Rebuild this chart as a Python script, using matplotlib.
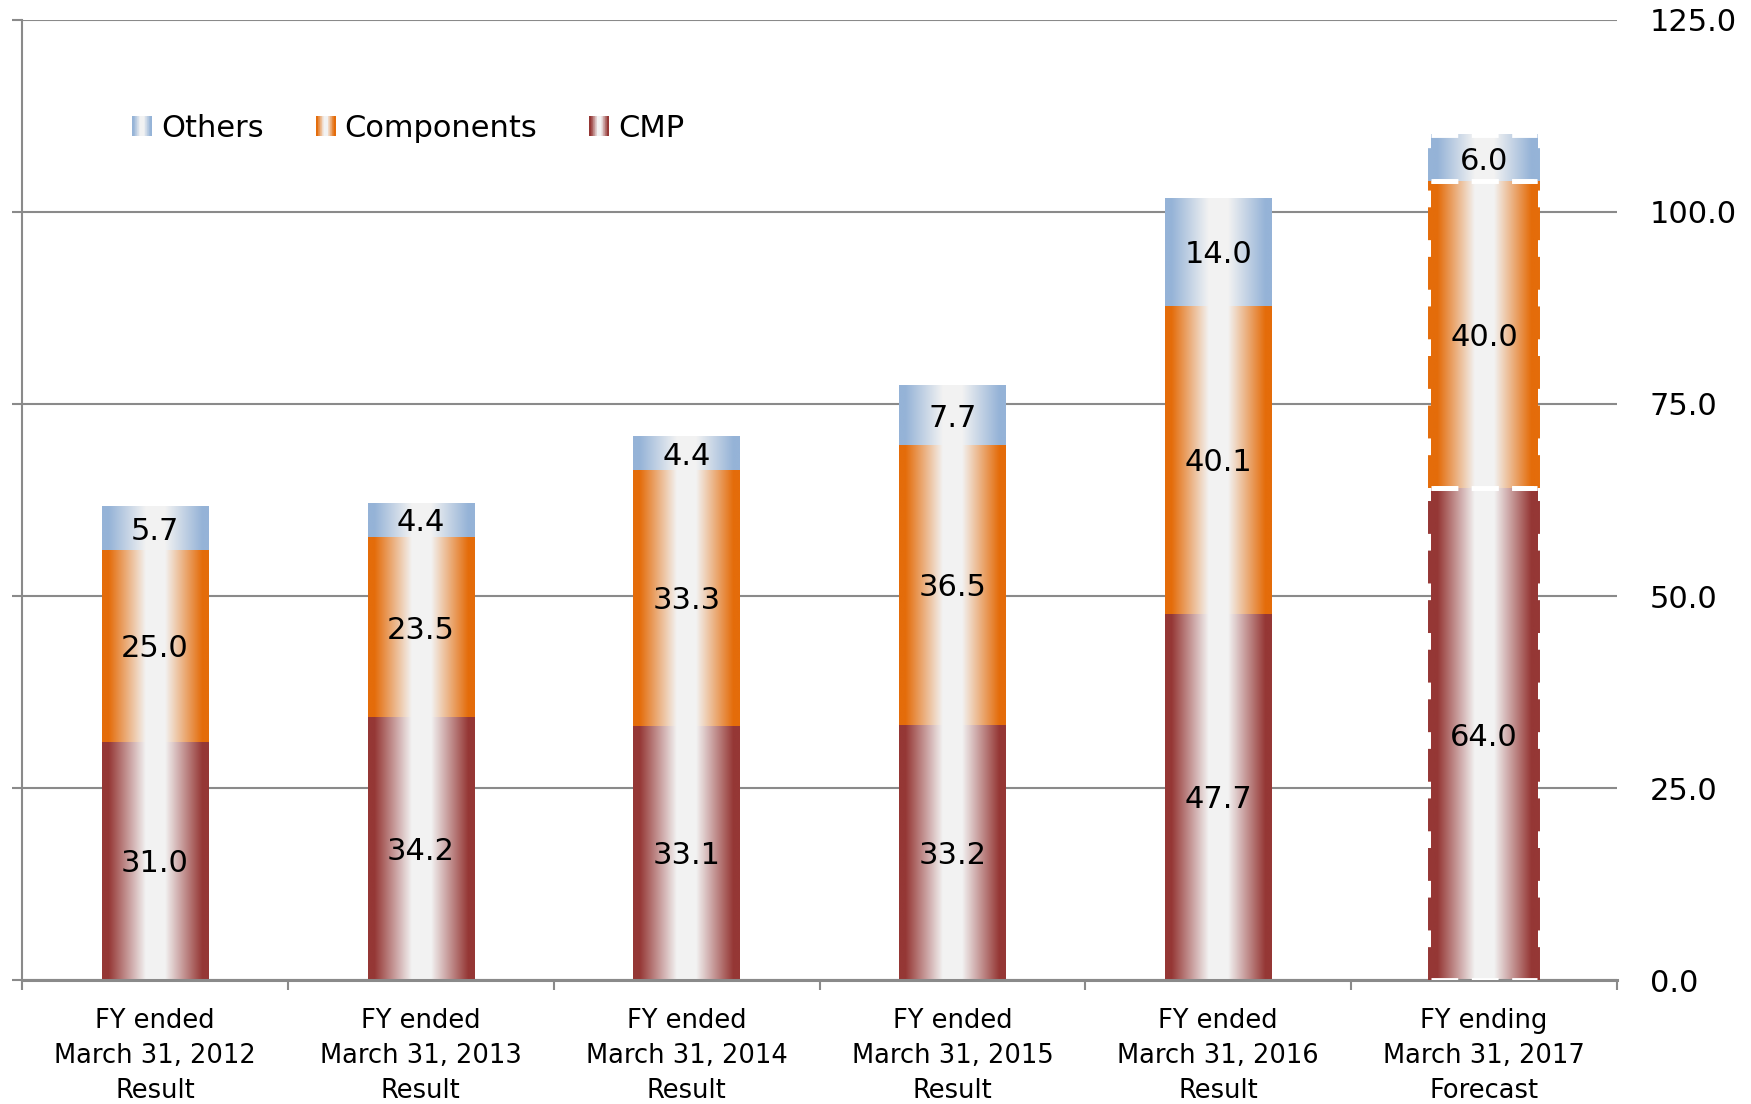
import numpy as np
import matplotlib
matplotlib.use("Agg")
import matplotlib.pyplot as plt
from matplotlib.legend_handler import HandlerBase
from matplotlib.patches import Rectangle
from matplotlib.colors import to_rgb

# sales by segment (billion yen), last column is the forecast
periods = [
    "FY ended\nMarch 31, 2012\nResult",
    "FY ended\nMarch 31, 2013\nResult",
    "FY ended\nMarch 31, 2014\nResult",
    "FY ended\nMarch 31, 2015\nResult",
    "FY ended\nMarch 31, 2016\nResult",
    "FY ending\nMarch 31, 2017\nForecast",
]
cmp_vals = [31.0, 34.2, 33.1, 33.2, 47.7, 64.0]
component_vals = [25.0, 23.5, 33.3, 36.5, 40.1, 40.0]
other_vals = [5.7, 4.4, 4.4, 7.7, 14.0, 6.0]
forecast_idx = 5

series = [
    ("CMP", cmp_vals, "#953735"),
    ("Components", component_vals, "#E46C0A"),
    ("Others", other_vals, "#95B3D7"),
]

GRID = "#8a8a8a"


def gradient_row(color, n=200):
    # colour at both edges, fading to near-white in the middle
    c = np.array(to_rgb(color))
    mid = np.array([0.95, 0.95, 0.95])
    t = np.linspace(0, 1, n)
    d = np.abs(t - 0.5) * 2
    w = np.clip((d - 0.18) / 0.7, 0, 1)
    return mid * (1 - w[:, None]) + c * w[:, None]


class GradientHandler(HandlerBase):
    def __init__(self, color, **kw):
        super().__init__(**kw)
        self.color = color

    def create_artists(self, legend, orig_handle, xdescent, ydescent,
                       width, height, fontsize, trans):
        cols = gradient_row(self.color, 30)
        step = width / len(cols)
        return [Rectangle((-xdescent + i * step, -ydescent), step * 1.05, height,
                          facecolor=c, edgecolor="none", transform=trans)
                for i, c in enumerate(cols)]


fig = plt.figure(figsize=(17.51, 11.04), dpi=100)
ax = fig.add_axes([0.0126, 0.1123, 0.9109, 0.8696])

x = np.arange(len(periods))
width = 0.4
bottom = np.zeros(len(periods))
proxies = {}

for name, vals, color in series:
    vals = np.array(vals)
    bars = ax.bar(x, vals, width, bottom=bottom, color="none", edgecolor="none")
    grad = gradient_row(color)[None, :, :]
    for i, patch in enumerate(bars.patches):
        x0, y0 = patch.get_x(), patch.get_y()
        w, h = patch.get_width(), patch.get_height()
        ax.imshow(grad, extent=[x0, x0 + w, y0, y0 + h], aspect="auto",
                  interpolation="bilinear", zorder=2)
        ax.text(x0 + w / 2, y0 + h / 2, f"{vals[i]:.1f}", ha="center",
                va="center_baseline", fontsize=22, zorder=5)
        if i == forecast_idx:
            # dashed outline for the forecast bar
            for xe in (x0, x0 + w):
                ax.plot([xe, xe], [y0, y0 + h], color=color, lw=4.3,
                        linestyle=(0, (5.5, 2.8)), solid_capstyle="butt",
                        zorder=3)
            for ye in (y0, y0 + h):
                ax.plot([x0, x0 + w], [ye, ye], color="white", lw=3.5,
                        linestyle=(0, (5.5, 2.8)), zorder=3)
    proxies[name] = (Rectangle((0, 0), 1, 1), color)
    bottom = bottom + vals

ax.set_xlim(-0.5, len(periods) - 0.5)
ax.set_ylim(0, 125)

# axes styling
ax.set_axisbelow(True)
ax.yaxis.grid(True, color=GRID, lw=1.5)
for s in ("top", "right"):
    ax.spines[s].set_visible(False)
ax.spines["left"].set_color(GRID)
ax.spines["left"].set_linewidth(1.5)
ax.spines["bottom"].set_color(GRID)
ax.spines["bottom"].set_linewidth(2.2)

yt = np.arange(0, 126, 25)
ax.set_yticks(yt)
ax.set_yticklabels([f"{v:.1f}" for v in yt])
ax.tick_params(axis="y", left=True, right=False, labelleft=False,
               labelright=True, length=7, width=1.5, color=GRID,
               labelsize=22, pad=16.5)

ax.set_xticks(x)
ax.set_xticklabels(periods, fontsize=18.5, linespacing=1.45)
ax.set_xticks(np.arange(-0.5, len(periods)), minor=True)
ax.tick_params(axis="x", which="major", length=0, pad=20)
ax.tick_params(axis="x", which="minor", length=7, width=1.5, color=GRID)

order = ["Others", "Components", "CMP"]
handles = [proxies[n][0] for n in order]
hmap = {proxies[n][0]: GradientHandler(proxies[n][1]) for n in order}
ax.legend(handles, order, handler_map=hmap, loc="center left",
          bbox_to_anchor=(0.069, 0.887), frameon=False, ncol=3,
          fontsize=22, handlelength=0.65, handleheight=0.65,
          handletextpad=0.3, columnspacing=1.7, borderpad=0,
          borderaxespad=0)

fig.savefig("out.png", dpi=100)
